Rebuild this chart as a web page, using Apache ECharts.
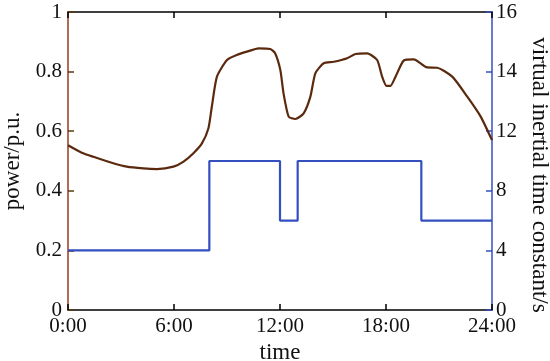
<!DOCTYPE html>
<html>
<head>
<meta charset="utf-8">
<script src="https://cdn.jsdelivr.net/npm/echarts@6/dist/echarts.min.js"></script>
<style>html,body{margin:0;padding:0;background:#fff}#c{width:550px;height:361px}</style>
</head>
<body>
<div id="c"></div>
<script>
// power curve (hour, p.u.)
var powerHours = [0, 0.78, 1.44, 2.38, 3.33, 4.27, 5.03, 5.97, 6.54, 7.1, 7.58, 7.95, 8.14, 8.43, 9.0, 9.56, 10.13, 10.79, 11.45, 11.73, 12.02, 12.2, 12.49, 12.87, 13.34, 13.72, 14.0, 14.47, 15.04, 15.8, 16.27, 16.93, 17.5, 17.78, 18.03, 18.25, 18.54, 19.0, 19.57, 20.33, 20.9, 21.75, 22.6, 23.36, 24.0];
var powerValues = [0.553, 0.528, 0.514, 0.496, 0.481, 0.475, 0.473, 0.481, 0.498, 0.526, 0.559, 0.610, 0.682, 0.783, 0.839, 0.856, 0.867, 0.878, 0.876, 0.861, 0.805, 0.727, 0.649, 0.641, 0.660, 0.716, 0.794, 0.828, 0.833, 0.845, 0.859, 0.861, 0.839, 0.783, 0.752, 0.752, 0.783, 0.837, 0.841, 0.814, 0.813, 0.783, 0.716, 0.649, 0.570];
// virtual inertial time constant (hour, s) — step changes
var stepHours = [0, 8, 12, 13, 20, 24];
var stepValues = [4, 10, 6, 10, 6, 6];
// right-axis tick labels (evenly spaced in the original figure)
var rightTickLabels = [0, 4, 8, 12, 14, 16];

var powerData = powerHours.map(function (h, i) { return [h, powerValues[i]]; });
// the right axis is piecewise-linear between its labelled ticks: map seconds -> tick index
function toRightAxis(v) {
  for (var k = 0; k < rightTickLabels.length - 1; k++) {
    var a = rightTickLabels[k], b = rightTickLabels[k + 1];
    if (v >= a && v <= b) return k + (v - a) / (b - a);
  }
  return rightTickLabels.length - 1;
}
var stepData = stepHours.map(function (h, i) { return [h, toRightAxis(stepValues[i])]; });

var FONT = '"Liberation Serif", "Times New Roman", serif';
var leftColor = '#963c1e';
var rightColor = '#3450c0';

var chart = echarts.init(document.getElementById('c'), null, { renderer: 'canvas' });
chart.setOption({
  animation: false,
  backgroundColor: '#ffffff',
  textStyle: { fontFamily: FONT },
  grid: { left: 68, right: 58, top: 12, bottom: 51, containLabel: false, outerBoundsMode: 'none' },
  xAxis: [{
    type: 'value', min: 0, max: 24, interval: 6, position: 'bottom',
    name: 'time', nameLocation: 'middle', nameGap: 29,
    nameTextStyle: { fontFamily: FONT, fontSize: 23, color: '#111' },
    axisLine: { show: true, onZero: false, lineStyle: { color: '#000', width: 1.5 } },
    axisTick: { show: true, inside: true, length: 6, lineStyle: { color: '#000', width: 1.5 } },
    axisLabel: { fontFamily: FONT, fontSize: 21, color: '#111', margin: 6,
      formatter: function (v) { return v + ':00'; } },
    splitLine: { show: false }
  }, {
    type: 'value', min: 0, max: 24, interval: 6, position: 'top',
    axisLine: { show: true, onZero: false, lineStyle: { color: '#000', width: 1.5 } },
    axisTick: { show: true, inside: true, length: 6, lineStyle: { color: '#000', width: 1.5 } },
    axisLabel: { show: false },
    splitLine: { show: false }
  }],
  yAxis: [{
    type: 'value', min: 0, max: 1, interval: 0.2, position: 'left',
    name: 'power/p.u.', nameLocation: 'middle', nameGap: 39,
    nameTextStyle: { fontFamily: FONT, fontSize: 23, color: '#111' },
    axisLine: { show: true, onZero: false, lineStyle: { color: leftColor, width: 1.5 } },
    axisTick: { show: true, inside: true, length: 6, lineStyle: { color: '#5a3a10', width: 1.5 } },
    axisLabel: { fontFamily: FONT, fontSize: 21, color: '#111', margin: 6 },
    splitLine: { show: false }
  }, {
    type: 'value', min: 0, max: rightTickLabels.length - 1, interval: 1, position: 'right',
    name: 'virtual inertial time constant/s', nameLocation: 'middle', nameGap: 25, nameRotate: -90,
    nameTextStyle: { fontFamily: FONT, fontSize: 23, color: '#111', padding: [0, 0, 0, 28] },
    axisLine: { show: true, onZero: false, lineStyle: { color: rightColor, width: 1.5 } },
    axisTick: { show: true, inside: true, length: 6, lineStyle: { color: rightColor, width: 1.5 } },
    axisLabel: { fontFamily: FONT, fontSize: 21, color: '#111', margin: 4,
      formatter: function (v) { return String(rightTickLabels[Math.round(v)]); } },
    splitLine: { show: false }
  }],
  series: [{
    type: 'line', xAxisIndex: 0, yAxisIndex: 1, data: stepData, step: 'end',
    showSymbol: false, lineStyle: { color: rightColor, width: 2.2 }, z: 2
  }, {
    type: 'line', xAxisIndex: 0, yAxisIndex: 0, data: powerData, smooth: 0.2,
    showSymbol: false, lineStyle: { color: '#5b2a0e', width: 2.2 }, z: 3
  }]
});
</script>
</body>
</html>
